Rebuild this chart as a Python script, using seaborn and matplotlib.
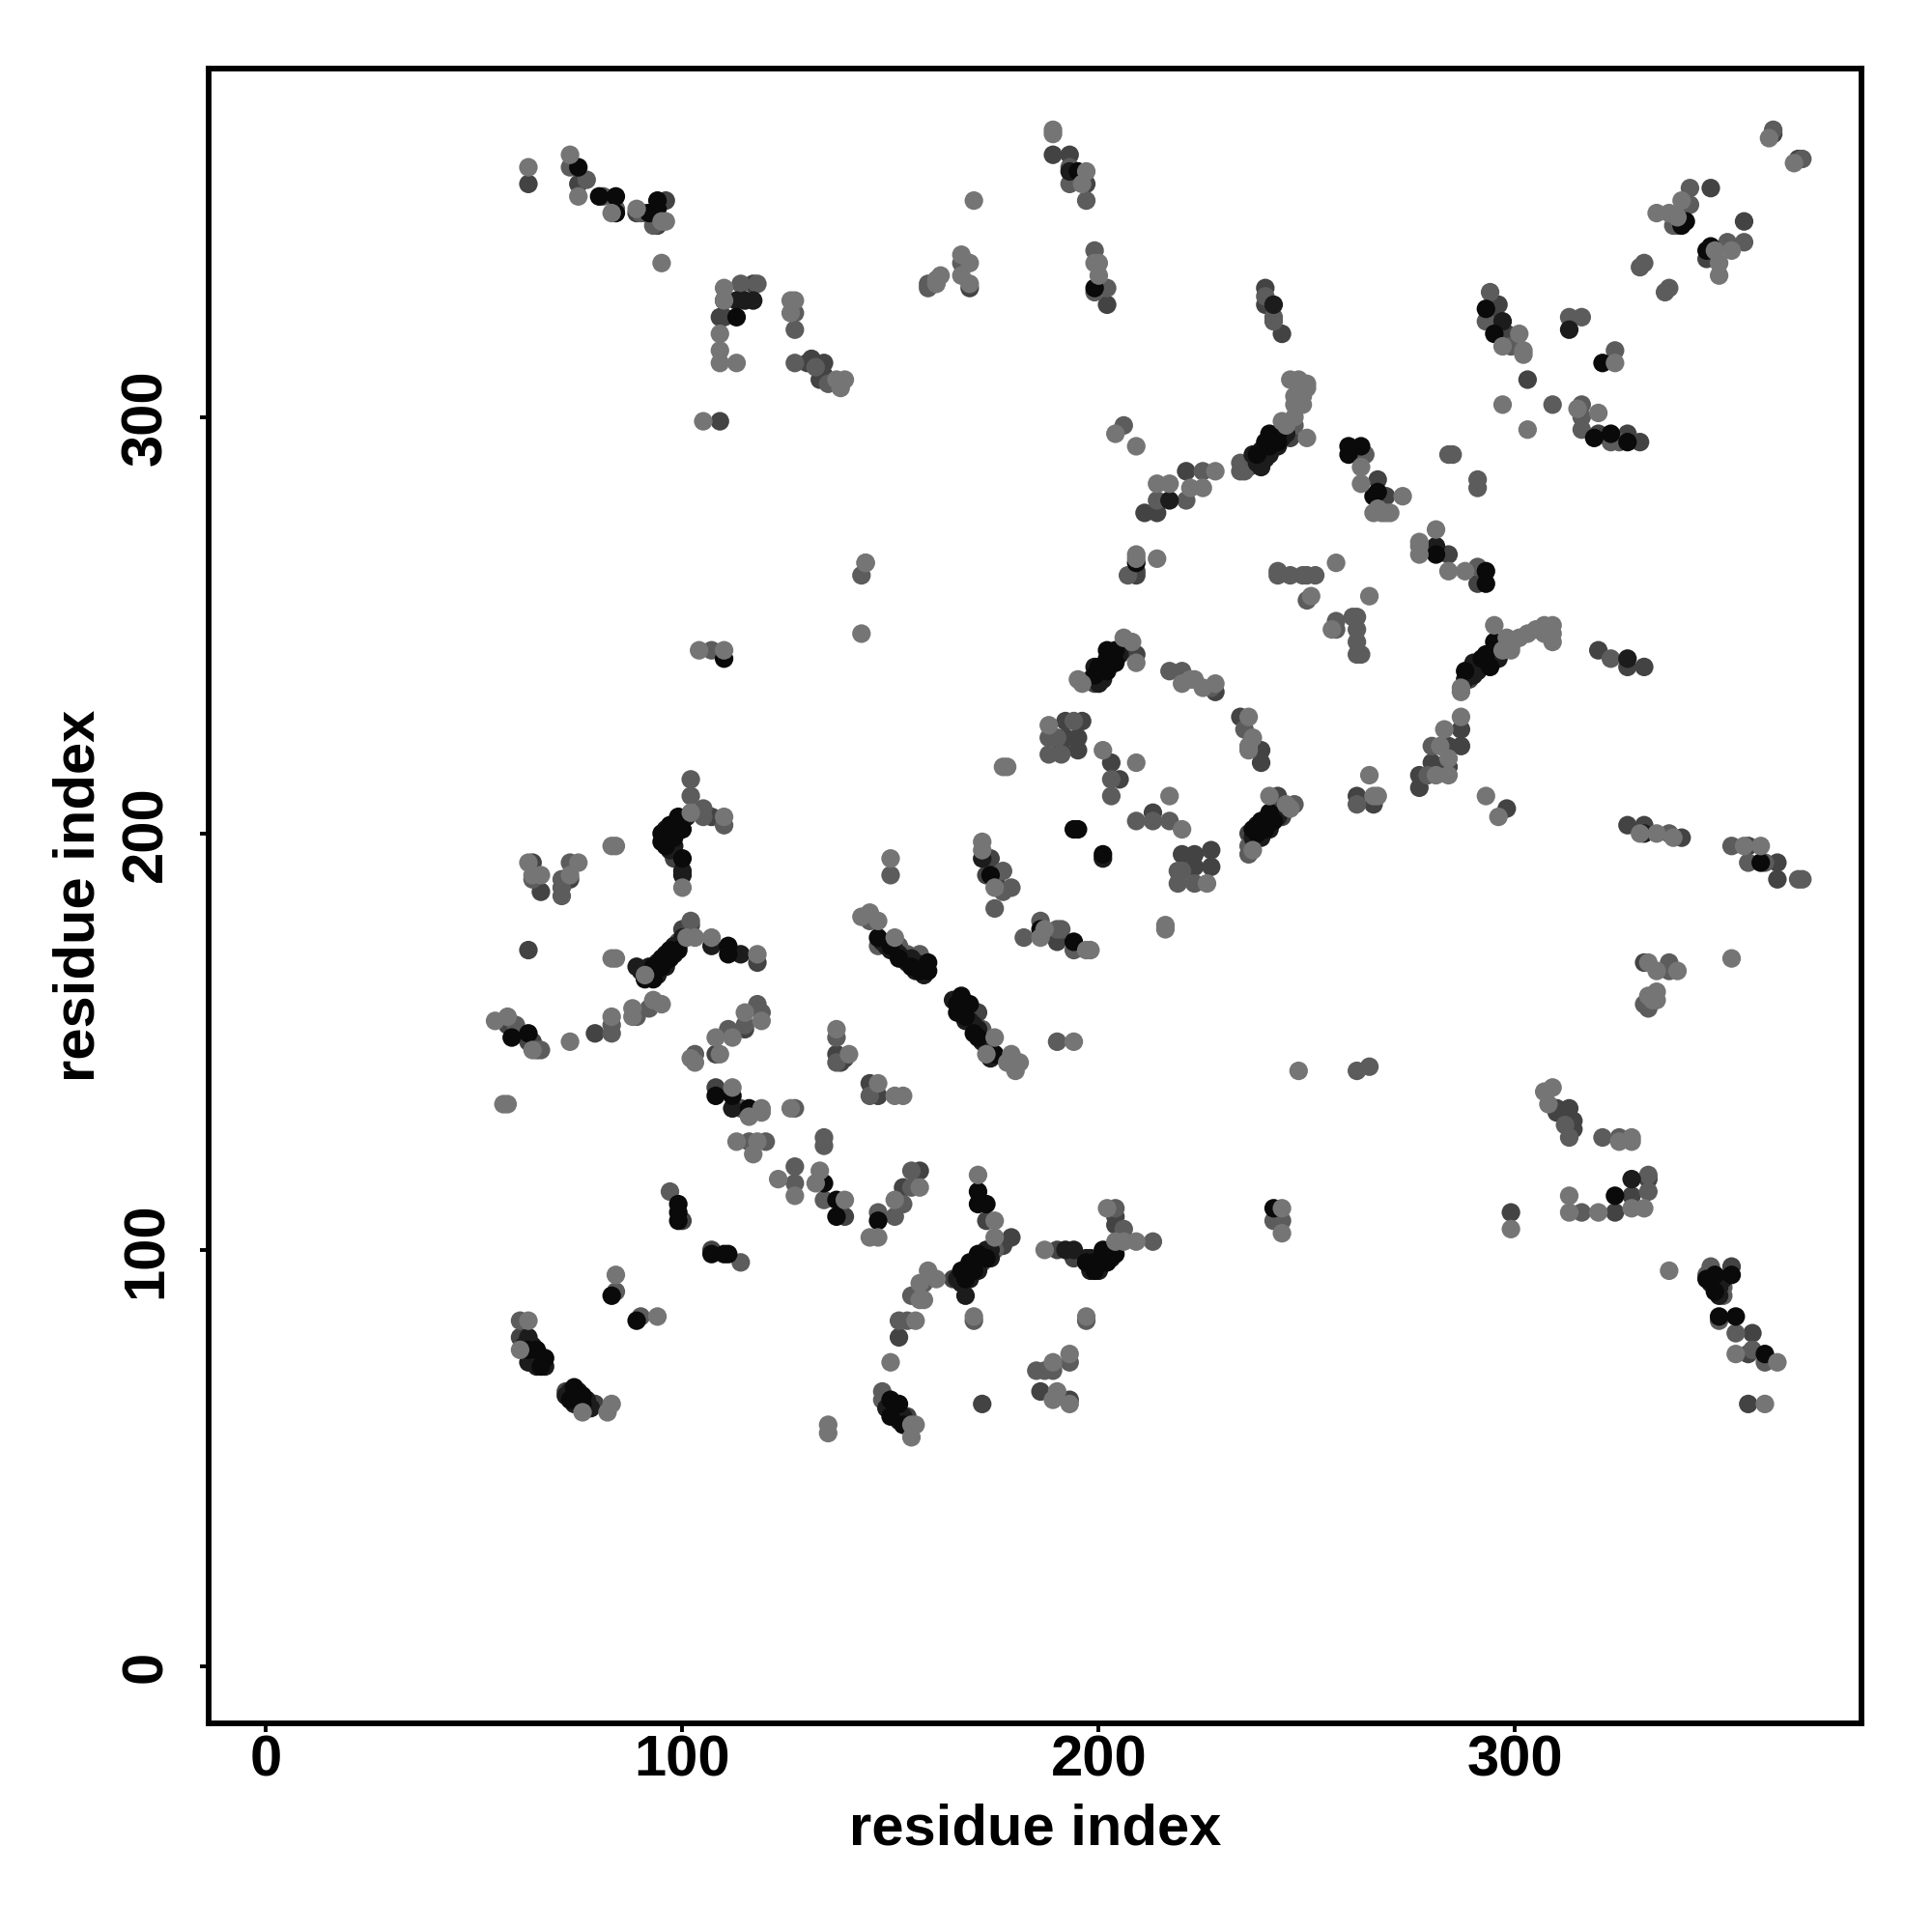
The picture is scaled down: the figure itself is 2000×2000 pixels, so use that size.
import matplotlib
matplotlib.use("Agg")
import matplotlib.pyplot as plt
import pandas as pd
import seaborn as sns

dark_points = [(63,356),(75,356),(89,349),(94,346),(96,352),(109,324),(110,324),(109,299),(117,332),(130,313),(131,314),(134,313),(134,310),(133,309),
 (189,363),(197,356),(202,327),(193,363),(240,331),(240,327),(244,320),(246,295),(237,289),(236,288),(211,277),(214,277),(221,287),(169,331),
 (347,355),(355,347),(346,338),(362,368),(368,362),(296,327),(295,323),(298,320),(320,296),(327,296),(330,294),(303,309),(267,285),(269,281),(284,267),(291,260),
 (289,237),(327,240),(331,240),(320,244),(287,225),(284,221),(287,221),(280,217),(284,216),(277,214),(277,211),(298,206),(327,202),(331,202),(340,199),(356,197),(363,193),(363,189),(331,169),
 (209,263),(209,262),(209,243),(198,237),(199,236),(228,234),(234,228),(239,220),(239,217),(192,227),(196,227),(192,223),(195,223),(191,220),(195,220),(203,217),(205,213),(213,205),(220,195),(223,195),(227,196),(223,192),(227,192),
 (243,209),(243,206),(244,204),(236,200),(262,209),(266,207),(173,190),(176,187),(190,174),(174,194),(64,193),(66,186),(73,189),(107,204),(98,194),(63,172),(118,169),(102,178),(100,177),
 (58,154),(63,150),(64,150),(79,152),(115,153),(108,147),(137,147),(138,145),(139,146),(145,140),(147,137),(108,139),(100,107),(107,100),(61,79),(72,66),(79,63),(152,79),(154,60),(153,115),(157,119),(139,108),
 (171,157),(179,103),(177,101),(172,97),(165,93),(173,107),(190,100),(194,98),(204,108),(204,106),(186,66),(193,64),(172,63),(310,134),(310,133),(313,134),(314,131),(314,129),(332,117),(328,113),(324,109),(299,109),(352,96),(357,80),(356,75),(356,63)]

mid_points = [(73,360),(77,357),(81,353),(84,350),(90,349),(91,349),(93,346),(114,332),(118,332),(127,325),(127,321),(127,313),(132,312),(135,308),(159,332),
 (193,360),(193,356),(197,352),(167,337),(159,331),(199,340),(199,330),(202,331),(240,329),(242,324),(242,323),(247,298),(244,296),(234,289),(234,287),(235,287),(206,298),(221,280),(225,287),(264,291),
 (214,280),(342,355),(342,351),(339,346),(338,346),(355,342),(351,342),(330,336),(331,337),(336,330),(337,331),(362,369),(369,362),(294,330),(293,323),(299,317),(313,324),(316,324),(324,316),(316,303),(316,300),(316,297),(323,294),(325,294),(291,264),(284,291),(285,291),(291,285),(291,283),(309,303),
 (323,242),(280,221),(279,214),(337,200),(337,167),(337,169),(352,197),(356,193),(360,193),(368,189),(369,189),(331,159),(332,158),
 (207,262),(243,262),(243,263),(246,262),(249,262),(250,262),(252,262),(250,256),(257,251),(257,249),(261,252),(262,252),(262,249),(262,246),(262,243),(263,243),
 (217,239),(220,239),(227,235),(235,225),(194,227),(188,223),(190,223),(188,219),(191,219),(203,213),(203,209),(209,203),(213,203),(217,203),(219,191),(220,191),(219,188),(223,188),(247,207),(236,197),(236,195),(262,207),
 (177,191),(179,187),(177,186),(175,182),(182,175),(186,179),(190,177),(191,177),(194,172),(64,189),(71,189),(71,187),(71,185),(73,193),(102,213),(102,209),(105,206),(105,204),(110,202),(150,190),(143,262),(107,244),(145,179),(147,173),(152,173),(154,171),(157,171),(102,179),(99,174),
 (60,154),(66,148),(65,148),(83,154),(83,152),(89,156),(92,158),(118,159),(119,157),(111,153),(115,154),(103,147),(137,151),(137,145),(145,137),(112,134),(114,134),(127,134),(116,126),(120,126),(134,127),(134,125),(127,120),(127,116),(134,112),(147,109),(153,111),(151,108),(155,119),(155,115),(97,114),(114,97),(84,90),(90,84),(61,83),(148,66),(148,64),(152,83),(154,83),(155,89),(158,92),
 (172,153),(175,100),(170,83),(197,83),(190,150),(262,143),(265,144),(204,110),(206,105),(213,102),(185,71),(187,71),(189,71),(193,73),(242,107),(244,107),
 (312,130),(313,127),(321,127),(325,127),(332,118),(332,114),(316,109),(347,96),(346,94),(350,91),(350,89),(349,83),(353,80),(357,76),(360,73)]

vdark_points = [(281,269),(327,242),(291,240),(291,239),(296,242),(110,328),(113,328),(115,328),(117,328),(193,359),(242,327),(239,292),(239,290),(239,288),(217,280),(297,323),(313,321),(201,237),(172,194),(100,190),(100,191),
 (331,200),(114,171),(89,168),(107,173),(168,89),(192,100),(194,100),(63,79),(63,73),(328,117),(112,134),(201,194),
 (90,167),(91,167),(92,168),(93,167),(94,169),(95,169),(96,171),(97,171),(98,173),(99,173),(100,175),(98,171),(96,168),(94,166),
 (96,199),(97,201),(98,201),(99,202),(100,203),(101,204),(96,201),(98,197),(97,196),
 (199,240),(200,238),(201,239),(203,241),(203,243),(205,243),(200,236),
 (238,202),(240,203),(241,203),(243,204),(239,199),(237,199),(241,201),
 (239,291),(240,292),(241,291),(242,294),(243,293),(244,295),(238,289),(237,291),(240,290),(245,296),
 (289,239),(290,238),(290,241),(292,240),(293,241),(294,243),(295,244),(296,245),(288,237),(296,243),(295,242),
 (166,93),(167,94),(168,95),(169,95),(170,97),(171,97),(172,99),(173,100),(174,100),(167,92),(169,93),(171,95),(174,98),
 (197,98),(198,96),(198,98),(200,96),(200,98),(201,97),(202,99),(203,100),(203,98),(198,95),(200,95),
 (62,77),(64,75),(64,73),(65,74),(66,74),(64,77),(65,72),(67,72),
 (72,65),(73,66),(74,65),(75,64),(75,66),(77,64),(77,62),(78,62),(74,63),
 (150,63),(151,62),(151,60),(152,61),(153,60),(152,59),(149,62),
 (148,174),(149,173),(150,172),(151,172),(152,171),(153,170),(154,169),(155,170),(156,169),(157,168),(158,168),(158,166),(156,167),
 (165,160),(166,160),(167,158),(168,158),(168,155),(169,155),(170,154),(171,153),(172,150),(173,149),(174,148),(174,146),
 (347,92),(348,92),(349,91),(349,89),(350,93)]

black_points = [(75,360),(80,353),(84,353),(84,349),(92,349),(94,352),(94,350),(113,324),(195,359),(199,331),(243,296),(241,296),(243,294),(240,294),(241,293),(238,291),(263,293),(260,293),(260,291),
 (340,346),(341,347),(347,341),(346,340),(293,326),(295,320),(319,295),(323,296),(327,294),(321,313),(266,281),(267,282),(281,267),(293,263),(293,260),
 (295,246),(293,243),(294,240),(292,242),(288,239),(359,193),(209,265),(204,244),(202,244),(200,240),(202,242),(204,241),(199,238),(202,239),(241,205),(239,203),(242,203),(240,201),(237,201),(238,200),
 (194,201),(195,201),(201,195),(174,190),(186,177),(194,174),(99,204),(97,202),(100,201),(95,200),(98,199),(95,198),(96,197),(100,194),(110,242),(147,175),(150,173),(152,170),(155,168),(157,167),(159,169),(159,167),
 (91,165),(92,166),(93,165),(93,168),(95,168),(95,170),(97,170),(97,172),(99,172),(111,173),(111,171),(59,151),(63,152),(108,137),(112,137),(116,134),(134,116),(137,112),(137,108),(147,107),
 (99,111),(99,109),(99,107),(107,99),(110,99),(111,99),(83,89),(89,83),(63,76),(65,76),(67,74),(66,72),(74,67),(73,64),(76,65),(76,63),(150,64),(152,63),(150,60),(153,58),
 (166,159),(169,159),(166,157),(168,156),(170,152),(171,151),(175,147),(167,161),(171,114),(171,111),(173,111),(173,98),(171,99),(169,97),(170,95),(167,95),(168,93),
 (197,97),(199,95),(201,100),(199,97),(202,97),(204,99),(242,110),(324,113),(352,94),(346,93),(348,94),(348,90),(349,84),(353,84),(360,75)]

light_points = [(63,360),(73,363),(75,353),(83,349),(89,350),(95,347),(96,347),(95,337),(110,331),(110,328),(109,320),(109,316),(109,313),(113,313),(126,328),(127,328),(126,325),(137,309),(139,309),(138,307),(105,299),(144,265),
 (189,369),(189,368),(197,359),(196,356),(170,352),(167,339),(169,337),(167,334),(169,332),(161,332),(161,333),(162,334),(199,337),(200,337),(200,334),(246,309),(248,309),(250,308),(250,307),(249,305),(247,305),(247,303),(249,303),(247,300),(244,299),(245,298),(250,295),
 (263,288),(263,284),(214,284),(217,284),(222,283),(225,283),(228,287),(204,296),(209,293),(209,267),(361,367),(367,361),(340,352),(334,349),(337,349),(339,348),(352,340),(348,340),(349,337),(349,334),(297,317),(301,320),(302,316),(302,315),(297,303),(303,297),(324,313),(315,302),(320,301),
 (273,281),(267,278),(270,277),(269,277),(268,277),(281,273),(277,270),(277,269),(277,267),(284,263),(288,263),(266,277),(257,265),(265,257),
 (295,250),(309,250),(307,250),(305,249),(309,248),(309,246),(303,248),(307,248),(301,247),(299,245),(298,247),(297,244),(299,244),(287,235),(287,234),(287,228),(283,225),(282,221),(284,218),(281,214),(284,214),(293,209),(296,204),(330,200),(334,200),(338,199),(355,197),(359,197),(352,170),(332,169),(334,167),(339,167),(334,162),(332,161),(334,160),(333,160),
 (209,266),(214,266),(251,257),(256,249),(206,247),(208,246),(209,241),(195,237),(196,236),(220,236),(222,237),(223,237),(225,235),(228,236),(236,228),(237,223),(236,221),(236,220),(188,226),(177,216),(178,216),(201,220),(209,217),(217,209),(220,201),(226,188),(241,209),(245,207),(246,206),(237,196),(265,214),(267,209),(266,209),
 (172,198),(172,196),(175,187),(187,177),(186,175),(197,172),(198,172),(216,178),(216,177),(143,248),(104,244),(110,244),(144,265),(102,205),(110,204),(83,197),(84,197),(100,187),(63,193),(64,190),(66,190),(73,190),(75,193),(150,194),(143,180),(145,181),(147,179),(151,175),(83,170),(84,170),(91,166),(101,175),(103,175),(107,175),(118,171),
 (55,155),(58,156),(64,148),(73,150),(83,156),(88,158),(88,156),(93,160),(95,159),(115,157),(119,155),(108,151),(112,151),(109,147),(103,145),(102,146),(137,153),(140,147),(147,140),(151,137),(153,137),(57,135),(58,135),(112,139),(119,134),(119,133),(116,132),(126,134),(113,126),(117,123),(118,126),(127,113),(123,117),(133,119),(132,116),(139,112),(151,112),(145,103),(147,103),(157,115),(84,94),(94,84),(63,83),(61,76),(76,61),(83,63),(82,61),(150,73),(156,83),(157,88),(157,92),(159,95),(135,58),(135,56),(155,58),(156,58),(155,55),
 (175,151),(173,147),(179,147),(178,145),(180,143),(180,145),(181,145),(194,150),(248,143),(171,118),(175,107),(175,103),(161,93),(158,88),(170,84),(197,84),(187,100),(202,110),(204,102),(206,102),(209,102),(193,75),(189,73),(189,64),(190,66),(193,63),(244,110),(244,104),
 (307,138),(309,139),(308,135),(325,126),(328,127),(328,126),(328,110),(331,110),(320,109),(313,109),(313,113),(299,105),(337,95),(353,75),(363,73),(360,63)]

shade_colors = {"dark": "#434343", "mid": "#5c5c5c", "vdark": "#1c1c1c", "black": "#0a0a0a", "light": "#757575"}
layers = [("dark", dark_points), ("mid", mid_points), ("vdark", vdark_points), ("black", black_points), ("light", light_points)]
tick_values = [0, 100, 200, 300]
axis_label = "residue index"

rows = [{"i": p[0], "j": p[1], "shade": name} for name, pts in layers for p in pts]
df = pd.DataFrame(rows)

sns.set_theme(style="white")
plt.rcParams["font.family"] = ["Liberation Sans", "DejaVu Sans"]
plt.rcParams["font.weight"] = "bold"

fig = plt.figure(figsize=(10, 10), dpi=200)
ax = fig.add_axes([216/2000, 1 - 1784/2000, (1927-216)/2000, (1784-71)/2000])
sns.scatterplot(data=df, x="i", y="j", hue="shade", palette=shade_colors, s=48,
                linewidth=0, legend=False, ax=ax, clip_on=True)
ax.set_xlim(-13.8, 383.2)
ax.set_ylim(-13.7, 383.7)
ax.set_xticks(tick_values)
ax.set_yticks(tick_values)
ax.tick_params(axis="x", length=3.1, width=1.4, color="black", labelsize=21.5, pad=1, labelcolor="black", bottom=True)
ax.tick_params(axis="y", length=3.1, width=1.4, color="black", labelsize=21.5, pad=10, labelcolor="black", left=True)
for t in ax.get_yticklabels():
    t.set_rotation(90)
    t.set_va("center")
for t in ax.get_xticklabels() + ax.get_yticklabels():
    t.set_fontweight("bold")
for s in ax.spines.values():
    s.set_linewidth(2.1)
    s.set_color("black")
ax.set_xlabel(axis_label, fontsize=21.5, fontweight="bold", color="black")
ax.set_ylabel(axis_label, fontsize=21.5, fontweight="bold", color="black", labelpad=5.6)
ax.xaxis.set_label_coords(0.5, -0.048)
fig.savefig("out.png", dpi=200, facecolor="white")
